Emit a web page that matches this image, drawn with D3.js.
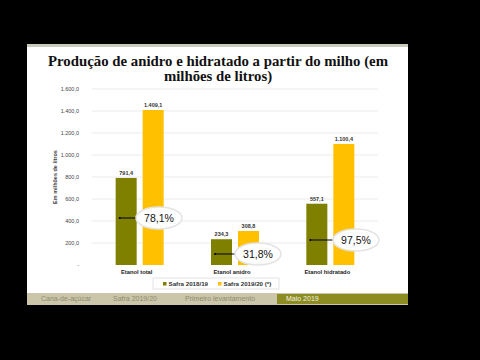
<!DOCTYPE html>
<html>
<head>
<meta charset="utf-8">
<script src="https://cdn.jsdelivr.net/npm/d3@7"></script>
<style>
  html, body { margin: 0; padding: 0; background: #000; }
  svg { display: block; }
</style>
</head>
<body>
<svg id="chart" width="480" height="360"></svg>
<script>
(function () {
  'use strict';

  var categories = ['Etanol total', 'Etanol anidro', 'Etanol hidratado'];
  var series = ['Safra 2018/19', 'Safra 2019/20 (*)'];
  var safra1819 = [791.4, 234.3, 557.1];
  var safra1920 = [1409.1, 308.8, 1100.4];
  var growth = ['78,1%', '31,8%', '97,5%'];
  var yTicks = [0, 200, 400, 600, 800, 1000, 1200, 1400, 1600];
  var footerItems = ['Cana-de-açúcar', 'Safra 2019/20', 'Primeiro levantamento', 'Maio 2019'];

  var colors = ['#7f7f00', '#ffc000'];
  var fmt = d3.formatLocale({ decimal: ',', thousands: '.', grouping: [3], currency: ['', ''] }).format(',.1f');

  var svg = d3.select('#chart');

  // slide
  svg.append('rect').attr('x', 27).attr('y', 44).attr('width', 381).attr('height', 261).attr('fill', '#fff');
  svg.append('rect').attr('x', 27).attr('y', 44).attr('width', 381).attr('height', 3).attr('fill', '#c9ccbc');

  // footer
  svg.append('rect').attr('x', 27).attr('y', 293).attr('width', 381).attr('height', 12).attr('fill', '#cbc6aa');
  svg.append('rect').attr('x', 277).attr('y', 294).attr('width', 131).attr('height', 10).attr('fill', '#8c8c22');
  var footX = [41, 113, 185, 286];
  svg.append('g').selectAll('text').data(footerItems).join('text')
    .attr('x', function (d, i) { return footX[i]; })
    .attr('y', 301)
    .attr('font-family', 'Liberation Sans, Arial, sans-serif')
    .attr('font-size', 7)
    .attr('fill', function (d, i) { return i === 3 ? '#f4f2e0' : '#8f8a70'; })
    .text(function (d) { return d; });

  // title
  var title = svg.append('text').attr('text-anchor', 'middle')
    .attr('font-family', 'Liberation Serif, Times New Roman, serif')
    .attr('font-weight', 'bold').attr('font-size', 14.8).attr('fill', '#111');
  title.append('tspan').attr('x', 218).attr('y', 66).text('Produção de anidro e hidratado a partir do milho (em');
  title.append('tspan').attr('x', 218).attr('y', 80.5).text('milhões de litros)');

  // scales
  var x0 = d3.scaleBand().domain(categories).range([92, 378]).paddingInner(0).paddingOuter(0);
  var y = d3.scaleLinear().domain([0, 1600]).range([265, 89]);

  // grid
  svg.append('g').selectAll('line').data(yTicks.slice(1)).join('line')
    .attr('x1', 92).attr('x2', 378)
    .attr('y1', function (d) { return y(d); }).attr('y2', function (d) { return y(d); })
    .attr('stroke', '#e6e6e6').attr('stroke-width', 0.8);

  var yAxis = svg.append('g').attr('transform', 'translate(82,0)')
    .call(d3.axisLeft(y).tickValues(yTicks).tickSize(0)
      .tickFormat(function (d) { return d === 0 ? '-' : fmt(d); }));
  yAxis.select('.domain').remove();
  yAxis.selectAll('text').attr('font-family', 'Liberation Sans, Arial, sans-serif')
    .attr('font-size', 5.5).attr('fill', '#444');

  svg.append('text').attr('transform', 'translate(57,' + y(800) + ') rotate(-90)')
    .attr('text-anchor', 'middle').attr('font-family', 'Liberation Sans, Arial, sans-serif')
    .attr('font-size', 5.5).attr('font-weight', 'bold').attr('fill', '#444')
    .text('Em milhões de litros');

  // bars
  var barW = 21;
  var offs = [-24, 3];
  var data = [safra1819, safra1920];
  data.forEach(function (vals, s) {
    var g = svg.append('g');
    g.selectAll('rect').data(vals).join('rect')
      .attr('x', function (d, i) { return x0(categories[i]) + x0.bandwidth() / 2 + offs[s]; })
      .attr('y', function (d) { return y(d); })
      .attr('width', barW)
      .attr('height', function (d) { return y(0) - y(d); })
      .attr('fill', colors[s]);
    g.selectAll('text').data(vals).join('text')
      .attr('x', function (d, i) { return x0(categories[i]) + x0.bandwidth() / 2 + offs[s] + barW / 2; })
      .attr('y', function (d) { return y(d) - 3; })
      .attr('text-anchor', 'middle')
      .attr('font-family', 'Liberation Sans, Arial, sans-serif')
      .attr('font-size', 5.5).attr('font-weight', 'bold').attr('fill', '#333')
      .text(function (d) { return fmt(d); });
  });

  // category labels
  svg.append('g').selectAll('text').data(categories).join('text')
    .attr('x', function (d) { return x0(d) + x0.bandwidth() / 2 - 3; })
    .attr('y', 274)
    .attr('text-anchor', 'middle')
    .attr('font-family', 'Liberation Sans, Arial, sans-serif')
    .attr('font-size', 5.8).attr('font-weight', 'bold').attr('fill', '#222')
    .text(function (d) { return d; });

  // growth callouts
  var callY = [218, 254, 240];
  var ellX = [159, 258, 356];
  var g2 = svg.append('g');
  categories.forEach(function (c, i) {
    var bx = x0(c) + x0.bandwidth() / 2 + offs[0];
    g2.append('line').attr('x1', bx + 4).attr('x2', ellX[i] - 20)
      .attr('y1', callY[i]).attr('y2', callY[i]).attr('stroke', '#000').attr('stroke-width', 1);
    g2.append('circle').attr('cx', bx + 4).attr('cy', callY[i]).attr('r', 1).attr('fill', '#000');
    g2.append('ellipse').attr('cx', ellX[i]).attr('cy', callY[i]).attr('rx', 23).attr('ry', 11)
      .attr('fill', '#fff').attr('stroke', '#e4e4e4').attr('stroke-width', 1.5);
    g2.append('text').attr('x', ellX[i]).attr('y', callY[i] + 3.5).attr('text-anchor', 'middle')
      .attr('font-family', 'Liberation Sans, Arial, sans-serif').attr('font-size', 10.5).attr('fill', '#111')
      .text(growth[i]);
  });

  // legend
  var lg = svg.append('g');
  lg.append('rect').attr('x', 153).attr('y', 278).attr('width', 126).attr('height', 11)
    .attr('fill', '#fff').attr('stroke', '#d0d0d0').attr('stroke-width', 0.6);
  var legX = [163, 218];
  series.forEach(function (s, i) {
    lg.append('rect').attr('x', legX[i]).attr('y', 282).attr('width', 3.5).attr('height', 3.5).attr('fill', colors[i]);
    lg.append('text').attr('x', legX[i] + 5.5).attr('y', 286.2)
      .attr('font-family', 'Liberation Sans, Arial, sans-serif').attr('font-size', 6.2).attr('font-weight', 'bold')
      .attr('fill', '#333').text(s);
  });
})();
</script>
</body>
</html>
